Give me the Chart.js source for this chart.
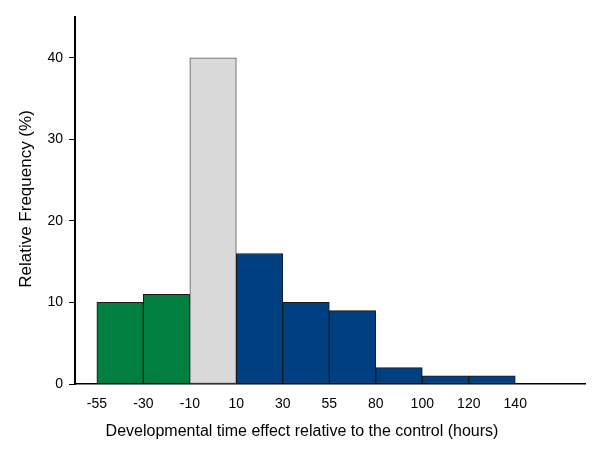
<!DOCTYPE html>
<html>
<head>
<meta charset="utf-8">
<script src="https://cdn.jsdelivr.net/npm/chart.js@4/dist/chart.umd.min.js"></script>
<style>
  html, body { margin: 0; padding: 0; background: #fff; }
  #wrap { width: 600px; height: 451px; }
</style>
</head>
<body>
<div id="wrap"><canvas id="myChart" width="600" height="451"></canvas></div>
<script>
// bin edges (hours) shown under the axis
const binEdges = ["-55", "-30", "-10", "10", "30", "55", "80", "100", "120", "140"];
// relative frequency (%) of each bin
const frequencies = [10, 11, 40, 16, 10, 9, 2, 1, 1];
const barColors = ["#007f3f", "#007f3f", "#d9d9d9", "#003f80", "#003f80", "#003f80", "#003f80", "#003f80", "#003f80"];
const borderColors = ["#1a1a1a", "#1a1a1a", "#555555", "#1a1a1a", "#1a1a1a", "#1a1a1a", "#1a1a1a", "#1a1a1a", "#1a1a1a"];
const yTicks = [0, 10, 20, 30, 40];

const xTitle = "Developmental time effect relative to the control (hours)";
const yTitle = "Relative Frequency (%)";

const FONT = "'Liberation Sans', Arial, sans-serif";

const titlePlugin = {
  id: "axisTitles",
  afterDraw(chart) {
    const ctx = chart.ctx;
    ctx.save();
    ctx.fillStyle = "#000";
    ctx.textAlign = "center";
    ctx.textBaseline = "middle";
    ctx.font = "16px " + FONT;
    ctx.fillText(xTitle, 302, 432);
    ctx.font = "17px " + FONT;
    ctx.translate(26, 199);
    ctx.rotate(-Math.PI / 2);
    ctx.fillText(yTitle, 0, 0);
    ctx.restore();
  },
};

const ctx = document.getElementById("myChart");
new Chart(ctx, {
  type: "bar",
  data: {
    datasets: [
      {
        data: frequencies.map((v, i) => ({ x: i + 0.5, y: v })),
        backgroundColor: barColors,
        borderColor: borderColors,
        borderWidth: 1,
        borderSkipped: false,
        barPercentage: 1,
        categoryPercentage: 1,
      },
    ],
  },
  options: {
    responsive: false,
    animation: false,
    layout: { padding: { left: 0, right: 15, top: 17, bottom: 0 } },
    plugins: { legend: { display: false }, tooltip: { enabled: false } },
    scales: {
      x: {
        type: "linear",
        offset: false,
        min: -0.47,
        max: 10.5,
        grid: { display: false, drawTicks: false, offset: false },
        border: { color: "#000", width: 1.5 },
        afterBuildTicks(scale) {
          scale.ticks = binEdges.map((_, i) => ({ value: i }));
        },
        ticks: {
          autoSkip: false,
          maxRotation: 0,
          padding: 12,
          color: "#000",
          font: { family: FONT, size: 14 },
          callback: (v) => binEdges[v],
        },
        afterFit(scale) {
          scale.height = 67;
        },
      },
      y: {
        min: 0,
        max: 45,
        grid: { drawOnChartArea: false, drawTicks: true, tickLength: 6, color: "#000" },
        border: { color: "#000", width: 2 },
        afterBuildTicks(scale) {
          scale.ticks = yTicks.map((v) => ({ value: v }));
        },
        ticks: {
          padding: 6,
          color: "#000",
          font: { family: FONT, size: 14 },
        },
        afterFit(scale) {
          scale.width = 75;
        },
      },
    },
  },
  plugins: [titlePlugin],
});
</script>
</body>
</html>
